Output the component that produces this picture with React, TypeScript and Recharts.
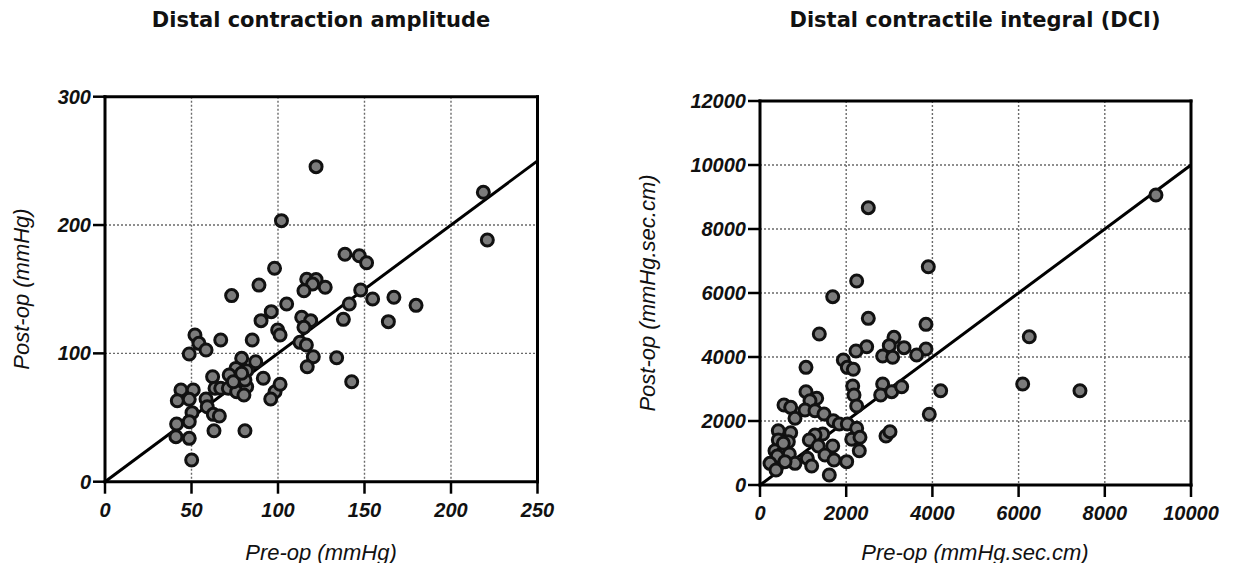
import React from 'react';
import { ScatterChart, Scatter, XAxis, YAxis, CartesianGrid, ReferenceLine } from 'recharts';

// Distal contraction amplitude (mmHg)
const ampPreOp = [122, 102, 98, 89, 73.2, 116.6, 122, 120, 115, 127.3, 218.7, 221, 138.7, 147, 151.2, 147.8, 141.2, 154.7, 167, 179.8, 137.8, 163.8, 133.9, 142.6, 105, 96.1, 90.2, 99.8, 101.2, 113.7, 118.9, 115, 112.7, 116.4, 120.4, 116.9, 85.1, 66.9, 52, 54.3, 58.4, 48.7, 79, 87.1, 75.7, 71.8, 81.9, 91.5, 62.2, 63.6, 66.9, 71.3, 76.1, 81.9, 80.3, 98.3, 101.2, 95.8, 43.9, 51, 41.8, 48.7, 58.4, 59.1, 50.3, 48.7, 41.4, 41, 48.7, 50.1, 62.6, 66.1, 63, 80.9, 80.9, 74.2, 79];
const ampPostOp = [245.5, 203.4, 166.3, 153.2, 145, 157.7, 157.5, 154, 148.8, 151.5, 225.5, 188.3, 177.2, 176.1, 170.6, 149.4, 138.5, 142.4, 143.7, 137.4, 126.5, 124.7, 96.6, 77.9, 138.5, 132.5, 125.5, 118.2, 114.3, 128.1, 125.5, 120.3, 108.6, 106.5, 97.4, 89.6, 110.4, 110.4, 114.3, 107.8, 102.6, 99.5, 96.1, 93.5, 88.3, 83.1, 86.5, 80.6, 81.8, 72.8, 72.8, 72.8, 70.1, 74, 67.6, 70.1, 75.9, 64.4, 71.5, 71.5, 63.1, 64.2, 64.4, 58.4, 53.8, 46.8, 45, 35.1, 33.8, 16.9, 52.5, 51.2, 39.7, 39.7, 79.2, 77.9, 84.5];

// Distal contractile integral (mmHg.sec.cm)
const dciPreOp = [2513, 3905, 2243, 9187, 6248, 6095, 7424, 1687, 2513, 3851, 1376, 3109, 3000, 3341, 3851, 3635, 2846, 3078, 2475, 2227, 1933, 2026, 2165, 1067, 2151, 2181, 2243, 2846, 2800, 3055, 3287, 4192, 3928, 1067, 1315, 1160, 557, 712, 1044, 1276, 1485, 812, 1701, 1840, 2026, 2243, 425, 712, 425, 657, 1455, 1276, 1144, 1353, 1687, 2128, 2320, 2304, 2923, 3016, 348, 503, 680, 401, 1098, 1508, 1717, 2011, 232, 812, 1199, 371, 1608, 580, 541];
const dciPostOp = [8666, 6822, 6375, 9062, 4634, 3156, 2947, 5885, 5208, 5021, 4719, 4615, 4354, 4292, 4250, 4063, 4031, 3990, 4322, 4188, 3906, 3677, 3615, 3677, 3094, 2812, 2469, 3156, 2812, 2916, 3072, 2947, 2209, 2916, 2709, 2634, 2500, 2427, 2344, 2322, 2219, 2084, 2009, 1906, 1906, 1772, 1697, 1634, 1406, 1353, 1594, 1562, 1406, 1219, 1219, 1428, 1490, 1072, 1531, 1666, 1072, 969, 969, 906, 834, 937, 781, 729, 677, 677, 594, 469, 312, 729, 1303];

const ampXTicks = [0, 50, 100, 150, 200, 250];
const ampYTicks = [0, 100, 200, 300];
const dciXTicks = [0, 2000, 4000, 6000, 8000, 10000];
const dciYTicks = [0, 2000, 4000, 6000, 8000, 10000, 12000];

const ampData = ampPreOp.map((x, i) => ({ x, y: ampPostOp[i] }));
const dciData = dciPreOp.map((x, i) => ({ x, y: dciPostOp[i] }));

const tickStyle = {
  fill: '#111',
  fontSize: 20,
  fontWeight: 700,
  fontStyle: 'italic',
  fontFamily: '"Liberation Sans", Arial, sans-serif',
};
const axisLineStyle = { stroke: '#000', strokeWidth: 3, strokeLinecap: 'square' as const };
const tickLineStyle = { stroke: '#000', strokeWidth: 2.5 };

const Dot = (props: any) => (
  <circle cx={props.cx} cy={props.cy} r={6} fill="#7b7b7b" stroke="#111" strokeWidth={3} />
);

type PanelProps = {
  width: number;
  height: number;
  margin: { top: number; right: number; bottom: number; left: number };
  yAxisWidth: number;
  data: { x: number; y: number }[];
  xMax: number;
  yMax: number;
  xTicks: number[];
  yTicks: number[];
};

function Panel({ width, height, margin, yAxisWidth, data, xMax, yMax, xTicks, yTicks }: PanelProps) {
  return (
    <ScatterChart width={width} height={height} margin={margin}>
      <CartesianGrid
        xAxisId="b"
        yAxisId="l"
        stroke="#6a6a6a"
        strokeDasharray="2 2"
        strokeWidth={1.4}
      />
      <XAxis
        xAxisId="b"
        type="number"
        dataKey="x"
        domain={[0, xMax]}
        ticks={xTicks}
        interval={0}
        allowDataOverflow
        height={60}
        tickSize={12}
        tickMargin={9}
        axisLine={axisLineStyle}
        tickLine={tickLineStyle}
        tick={tickStyle}
      />
      <XAxis
        xAxisId="t"
        orientation="top"
        type="number"
        domain={[0, xMax]}
        ticks={xTicks}
        interval={0}
        allowDataOverflow
        mirror
        height={10}
        tickSize={9}
        axisLine={axisLineStyle}
        tickLine={tickLineStyle}
        tick={false}
      />
      <YAxis
        yAxisId="l"
        type="number"
        dataKey="y"
        domain={[0, yMax]}
        ticks={yTicks}
        interval={0}
        allowDataOverflow
        width={yAxisWidth}
        tickSize={12}
        tickMargin={2}
        axisLine={axisLineStyle}
        tickLine={tickLineStyle}
        tick={tickStyle}
      />
      <YAxis
        yAxisId="r"
        orientation="right"
        type="number"
        domain={[0, yMax]}
        ticks={yTicks}
        interval={0}
        allowDataOverflow
        mirror
        width={10}
        tickSize={9}
        axisLine={axisLineStyle}
        tickLine={tickLineStyle}
        tick={false}
      />
      <ReferenceLine
        xAxisId="b"
        yAxisId="l"
        segment={[{ x: 0, y: 0 }, { x: xMax, y: xMax }]}
        stroke="#000"
        strokeWidth={3}
      />
      <Scatter
        xAxisId="b"
        yAxisId="l"
        data={data}
        shape={Dot}
        isAnimationActive={false}
      />
    </ScatterChart>
  );
}

const titleStyle: React.CSSProperties = {
  position: 'absolute',
  width: 600,
  textAlign: 'center',
  fontFamily: '"DejaVu Sans", Verdana, sans-serif',
  fontWeight: 700,
  fontSize: 21,
  lineHeight: '24px',
  color: '#111',
  whiteSpace: 'nowrap',
};
const axisLabelStyle: React.CSSProperties = {
  position: 'absolute',
  width: 400,
  textAlign: 'center',
  fontFamily: '"Liberation Sans", Arial, sans-serif',
  fontStyle: 'italic',
  fontSize: 22,
  lineHeight: '26px',
  color: '#111',
  whiteSpace: 'nowrap',
};

export default function App() {
  return (
    <div style={{ position: 'relative', width: 1220, height: 555, background: '#fff' }}>
      <div style={{ ...titleStyle, left: 313 - 300, top: 0 }}>Distal contraction amplitude</div>
      <div style={{ ...titleStyle, left: 967 - 300, top: 0 }}>Distal contractile integral (DCI)</div>

      <div style={{ position: 'absolute', left: 0, top: 0 }}>
        <Panel
          width={600}
          height={555}
          margin={{ top: 88.7, right: 70.5, bottom: 21.3, left: 0 }}
          yAxisWidth={97}
          data={ampData}
          xMax={250}
          yMax={300}
          xTicks={ampXTicks}
          yTicks={ampYTicks}
        />
      </div>
      <div style={{ position: 'absolute', left: 612, top: 0 }}>
        <Panel
          width={610}
          height={555}
          margin={{ top: 93, right: 39, bottom: 18, left: 0 }}
          yAxisWidth={140}
          data={dciData}
          xMax={10000}
          yMax={12000}
          xTicks={dciXTicks}
          yTicks={dciYTicks}
        />
      </div>

      <div style={{ ...axisLabelStyle, left: 313 - 200, top: 532 }}>Pre-op (mmHg)</div>
      <div style={{ ...axisLabelStyle, left: 967 - 200, top: 532 }}>Pre-op (mmHg.sec.cm)</div>

      <div
        style={{
          ...axisLabelStyle,
          left: 14 - 200,
          top: 281 - 13,
          transform: 'rotate(-90deg)',
        }}
      >
        Post-op (mmHg)
      </div>
      <div
        style={{
          ...axisLabelStyle,
          left: 640 - 200,
          top: 285 - 13,
          transform: 'rotate(-90deg)',
        }}
      >
        Post-op (mmHg.sec.cm)
      </div>
    </div>
  );
}
